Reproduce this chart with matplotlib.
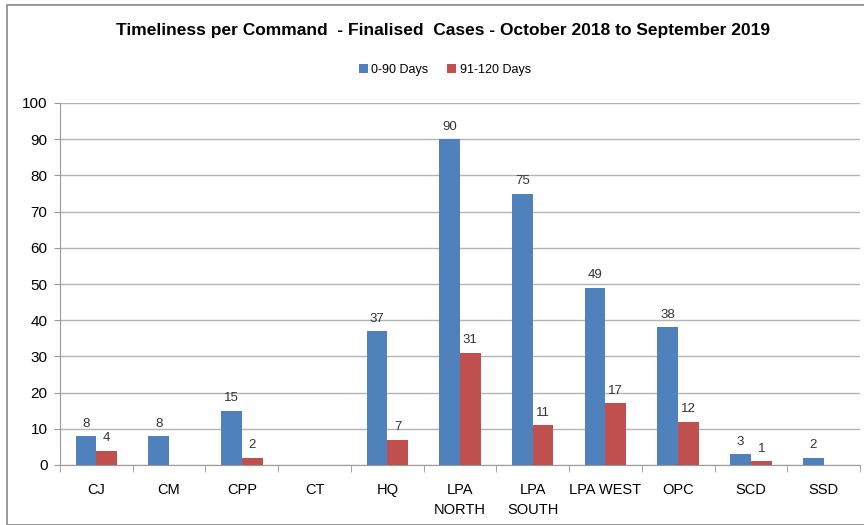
import numpy as np
import matplotlib
matplotlib.use("Agg")
import matplotlib.pyplot as plt
from matplotlib.patches import Rectangle

commands = ["CJ", "CM", "CPP", "CT", "HQ", "LPA\nNORTH", "LPA\nSOUTH",
            "LPA WEST", "OPC", "SCD", "SSD"]
days_0_90 = [8, 8, 15, 0, 37, 90, 75, 49, 38, 3, 2]
days_91_120 = [4, 0, 2, 0, 7, 31, 11, 17, 12, 1, 0]

BLUE = "#4F81BD"
RED = "#C0504D"
GRID = "#B3B3B3"

plt.rcParams["font.family"] = ["Liberation Sans", "DejaVu Sans"]

fig = plt.figure(figsize=(8.64, 5.25), dpi=100)
ax = fig.add_axes([60 / 864, 1 - 465 / 525, 800 / 864, (465 - 103) / 525])

x = np.arange(len(commands))
w = 0.285
b1 = ax.bar(x - w / 2, days_0_90, w, color=BLUE, label="0-90 Days", zorder=3)
b2 = ax.bar(x + w / 2, days_91_120, w, color=RED, label="91-120 Days", zorder=3)

for bars, vals in ((b1, days_0_90), (b2, days_91_120)):
    for rect, v in zip(bars, vals):
        if v:
            ax.text(rect.get_x() + rect.get_width() / 2, v + 1.8, str(v),
                    ha="center", va="bottom", fontsize=9.5, color="#333333")

ax.set_xlim(-0.5, len(commands) - 0.5)
ax.set_ylim(0, 100)
ax.set_yticks(range(0, 101, 10))
ax.yaxis.grid(True, color=GRID, linewidth=1, zorder=0)
ax.set_axisbelow(True)

ax.set_xticks(x)
ax.set_xticklabels(commands, fontsize=10.5, linespacing=1.5)
ax.tick_params(axis="x", length=0, pad=13)
ax.set_xticks(np.arange(-0.5, len(commands)), minor=True)
ax.tick_params(axis="x", which="minor", length=5, color="#999999")
ax.tick_params(axis="y", length=4, color="#999999", labelsize=11, pad=5)

for side in ("top", "right"):
    ax.spines[side].set_visible(False)
ax.spines["left"].set_color("#999999")
ax.spines["bottom"].set_color("#999999")

fig.text(0.513, 1 - 31 / 525, "Timeliness per Command  - Finalised  Cases - October 2018 to September 2019",
         ha="center", va="center", fontsize=12.5, fontweight="bold")
fig.legend(handles=[b1, b2], loc="center", bbox_to_anchor=(0.515, 1 - 70 / 525),
           ncol=2, frameon=False, fontsize=9, handlelength=0.7, handleheight=0.7,
           handletextpad=0.3, columnspacing=1.5)

fig.patches.append(Rectangle((7 / 864, 0.0), 1.0, 1 - 5 / 525, transform=fig.transFigure,
                             fill=False, edgecolor="#888888", linewidth=1.2))

fig.savefig("out.png", dpi=100)
